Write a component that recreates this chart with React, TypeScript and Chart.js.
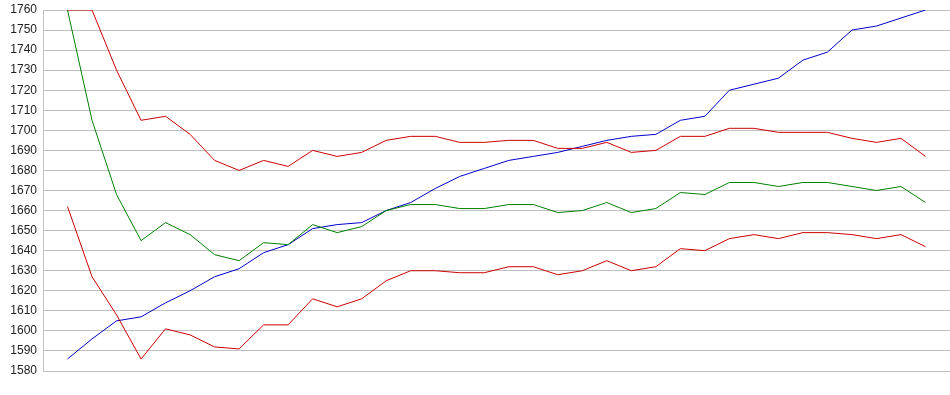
import React, { useEffect, useRef } from "react";
import { Chart, registerables } from "chart.js";

Chart.register(...registerables);

const yTicksMin = 1580;
const yTicksMax = 1760;
const yTickStep = 10;

const upperRed = [1760, 1760, 1730, 1705, 1707, 1698, 1685, 1680, 1685, 1682, 1690, 1687, 1689, 1695, 1697, 1697, 1694, 1694, 1695, 1695, 1691, 1691, 1694, 1689, 1690, 1697, 1697, 1701, 1701, 1699, 1699, 1699, 1696, 1694, 1696, 1687];
const greenLine = [1760, 1705, 1668, 1645, 1654, 1648, 1638, 1635, 1644, 1643, 1653, 1649, 1652, 1660, 1663, 1663, 1661, 1661, 1663, 1663, 1659, 1660, 1664, 1659, 1661, 1669, 1668, 1674, 1674, 1672, 1674, 1674, 1672, 1670, 1672, 1664];
const blueLine = [1586, 1596, 1605, 1607, 1614, 1620, 1627, 1631, 1639, 1643, 1651, 1653, 1654, 1660, 1664, 1671, 1677, 1681, 1685, 1687, 1689, 1692, 1695, 1697, 1698, 1705, 1707, 1720, 1723, 1726, 1735, 1739, 1750, 1752, 1756, 1760];
const lowerRed = [1662, 1627, 1608, 1586, 1601, 1598, 1592, 1591, 1603, 1603, 1616, 1612, 1616, 1625, 1630, 1630, 1629, 1629, 1632, 1632, 1628, 1630, 1635, 1630, 1632, 1641, 1640, 1646, 1648, 1646, 1649, 1649, 1648, 1646, 1648, 1642];

const toPoints = (arr: number[]) => arr.map((v, i) => ({ x: i, y: v }));

export default function App() {
  const ref = useRef<HTMLCanvasElement | null>(null);

  useEffect(() => {
    document.body.style.margin = "0";
    if (!ref.current) return;
    const mk = (data: number[], color: string) => ({
      data: toPoints(data),
      borderColor: color,
      backgroundColor: color,
      borderWidth: 1,
      pointRadius: 0,
      tension: 0,
      fill: false,
    });
    const chart = new Chart(ref.current, {
      type: "line",
      data: {
        datasets: [
          mk(upperRed, "#cc0000"),
          mk(greenLine, "#008000"),
          mk(lowerRed, "#cc0000"),
          mk(blueLine, "#0000cc"),
        ],
      },
      options: {
        animation: false,
        responsive: false,
        maintainAspectRatio: false,
        layout: { padding: { top: 10, bottom: 24, left: 0, right: 0 } },
        plugins: { legend: { display: false }, tooltip: { enabled: false } },
        scales: {
          x: {
            type: "linear",
            min: -1,
            max: 36,
            display: false,
          },
          y: {
            min: yTicksMin,
            max: yTicksMax,
            ticks: {
              stepSize: yTickStep,
              padding: 6,
              color: "#222",
              font: { family: "'Liberation Sans', Arial, sans-serif", size: 12 },
              callback: (v: any) => String(v),
            },
            grid: { color: "#c0c0c0", drawTicks: false, lineWidth: 1 },
            border: { color: "#c0c0c0", width: 1 },
            afterFit: (scale: any) => {
              scale.width = 43;
              scale.paddingTop = 0;
              scale.paddingBottom = 0;
            },
          },
        },
      },
    } as any);
    return () => chart.destroy();
  }, []);

  return (
    <div style={{ width: 950, height: 395, position: "relative", background: "#fff" }}>
      <canvas ref={ref} width={950} height={395} style={{ display: "block" }} />
    </div>
  );
}
